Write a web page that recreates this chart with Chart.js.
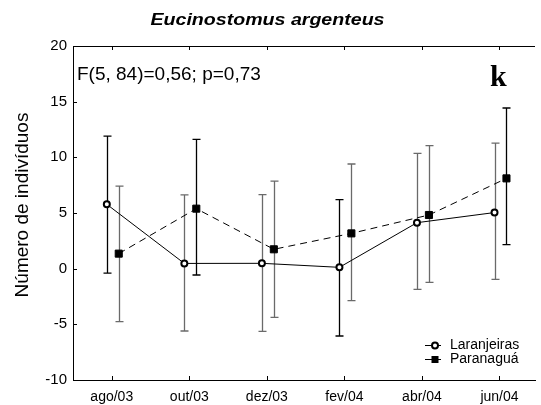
<!DOCTYPE html>
<html><head><meta charset="utf-8">
<script src="https://cdn.jsdelivr.net/npm/chart.js@4.4.0/dist/chart.umd.min.js"></script>
<style>html,body{margin:0;padding:0;background:#fff;overflow:hidden}#wrap{width:541px;height:405px;position:relative}</style>
</head><body><div id="wrap"><canvas id="c" width="541" height="405"></canvas></div>
<script>
const categories = ['ago/03','out/03','dez/03','fev/04','abr/04','jun/04'];
const laranjeirasMean = [5.78, 0.47, 0.48, 0.12, 4.13, 5.04];
const laranjeirasHigh = [11.9, 6.62, 6.65, 6.2, 10.36, 11.27];
const laranjeirasLow  = [-0.4, -5.6, -5.63, -6.05, -1.86, -0.96];
const paranaguaMean = [1.35, 5.39, 1.74, 3.17, 4.82, 8.11];
const paranaguaHigh = [7.42, 11.62, 7.87, 9.4, 11.05, 14.43];
const paranaguaLow  = [-4.76, -0.57, -4.37, -2.87, -1.23, 2.16];
const yTicks = [-10, -5, 0, 5, 10, 15, 20];
const seriesNames = ['Laranjeiras', 'Paranaguá'];
const titleText = 'Eucinostomus argenteus';
const yTitle = 'Número de indivíduos';
const statText = 'F(5, 84)=0,56; p=0,73';
const panelLetter = 'k';

// styles (not data)
const OFFSETS = [-0.064, 0.09];
const GRAY = '#6a6a6a';
const ERR_COLORS = [
  ['#000', GRAY, GRAY, '#000', GRAY, GRAY],
  [GRAY, '#000', GRAY, GRAY, GRAY, '#000']
];
const SANS = '"Liberation Sans", Arial, sans-serif';

const mk = (means, off) => means.map((v, i) => ({x: i + off, y: v}));
const errData = [[laranjeirasLow, laranjeirasHigh], [paranaguaLow, paranaguaHigh]];

const deco = {
  id: 'deco',
  beforeDatasetsDraw(chart) {
    const ctx = chart.ctx, xs = chart.scales.x, ys = chart.scales.y;
    ctx.save();
    ctx.lineWidth = 1.3;
    errData.forEach((pair, d) => {
      pair[0].forEach((lo, j) => {
        const hi = pair[1][j];
        const x = Math.round(xs.getPixelForValue(j + OFFSETS[d])) + 0.5;
        const y1 = ys.getPixelForValue(lo), y2 = ys.getPixelForValue(hi);
        ctx.strokeStyle = ERR_COLORS[d][j];
        ctx.beginPath();
        ctx.moveTo(x, y1); ctx.lineTo(x, y2);
        ctx.moveTo(x - 4, y1); ctx.lineTo(x + 4, y1);
        ctx.moveTo(x - 4, y2); ctx.lineTo(x + 4, y2);
        ctx.stroke();
      });
    });
    ctx.restore();
  },
  afterDraw(chart) {
    const ctx = chart.ctx, xs = chart.scales.x, ys = chart.scales.y, a = chart.chartArea;
    ctx.save();
    ctx.strokeStyle = '#000';
    ctx.lineWidth = 1;
    ctx.beginPath();
    ctx.moveTo(a.left, Math.round(a.top) + 0.5); ctx.lineTo(a.right, Math.round(a.top) + 0.5);
    ctx.stroke();
    ctx.beginPath();
    yTicks.forEach(v => {
      const y = Math.round(ys.getPixelForValue(v)) + 0.5;
      ctx.moveTo(a.left, y); ctx.lineTo(a.left + 4, y);
    });
    categories.forEach((c, i) => {
      const x = Math.round(xs.getPixelForValue(i)) + 0.5;
      ctx.moveTo(x, a.bottom); ctx.lineTo(x, a.bottom - 4);
      ctx.moveTo(x, a.top); ctx.lineTo(x, a.top + 4);
    });
    ctx.stroke();

    ctx.fillStyle = '#000';
    ctx.font = 'italic bold 16px ' + SANS;
    const tw = ctx.measureText(titleText).width;
    ctx.save();
    ctx.translate(267.5, 25);
    ctx.scale(234 / tw, 1);
    ctx.textAlign = 'center';
    ctx.textBaseline = 'alphabetic';
    ctx.fillText(titleText, 0, 0);
    ctx.restore();

    ctx.save();
    ctx.font = '19px ' + SANS;
    ctx.translate(28, 205);
    ctx.rotate(-Math.PI / 2);
    ctx.textAlign = 'center';
    ctx.textBaseline = 'alphabetic';
    ctx.fillText(yTitle, 0, 0);
    ctx.restore();

    ctx.font = '19px ' + SANS;
    ctx.textAlign = 'left';
    ctx.textBaseline = 'middle';
    ctx.fillText(statText, a.left + 4, 75);

    ctx.font = 'bold 30px "Liberation Serif", "Times New Roman", serif';
    ctx.textBaseline = 'alphabetic';
    ctx.fillText(panelLetter, 490, 86);

    const lx0 = 425, lx1 = 441, mx = 435, tx = 450;
    const rows = [345, 359];
    ctx.font = '14px ' + SANS;
    ctx.textBaseline = 'middle';
    rows.forEach((ry, d) => {
      ctx.strokeStyle = '#000';
      ctx.lineWidth = 1;
      ctx.setLineDash([]);
      ctx.beginPath();
      ctx.moveTo(lx0, ry + 0.5); ctx.lineTo(lx1, ry + 0.5);
      ctx.stroke();
      if (d === 0) {
        ctx.fillStyle = '#fff';
        ctx.lineWidth = 2;
        ctx.beginPath(); ctx.arc(mx, ry + 0.5, 3, 0, Math.PI * 2); ctx.fill(); ctx.stroke();
      } else {
        ctx.fillStyle = '#000';
        ctx.fillRect(mx - 3.5, ry - 3, 7, 7);
      }
      ctx.fillStyle = '#000';
      ctx.fillText(seriesNames[d], tx, ry);
    });
    ctx.restore();
  }
};

new Chart(document.getElementById('c'), {
  type: 'scatter',
  data: {
    datasets: [
      {
        label: seriesNames[0],
        data: mk(laranjeirasMean, OFFSETS[0]),
        showLine: true,
        borderColor: '#000',
        borderWidth: 1,
        pointStyle: 'circle',
        pointRadius: 3,
        pointBackgroundColor: '#fff',
        pointBorderColor: '#000',
        pointBorderWidth: 2
      },
      {
        label: seriesNames[1],
        data: mk(paranaguaMean, OFFSETS[1]),
        showLine: true,
        borderColor: '#000',
        borderWidth: 1,
        borderDash: [7, 5],
        pointStyle: 'rect',
        pointRadius: 5,
        pointBackgroundColor: '#000',
        pointBorderColor: '#000',
        pointBorderWidth: 1
      }
    ]
  },
  options: {
    responsive: false,
    animation: false,
    events: [],
    layout: { padding: { top: 46, right: 0, left: 0, bottom: 0 } },
    plugins: { legend: { display: false }, tooltip: { enabled: false }, title: { display: false } },
    scales: {
      x: {
        type: 'linear',
        min: -0.5,
        max: 5.458,
        afterBuildTicks: s => { s.ticks = categories.map((c, i) => ({ value: i })); },
        afterFit: s => { s.height = 25; },
        ticks: {
          callback: v => categories[v],
          color: '#000',
          font: { family: SANS, size: 14 },
          padding: 9,
          maxRotation: 0,
          autoSkip: false
        },
        grid: { display: true, drawOnChartArea: false, drawTicks: false },
        border: { display: true, color: '#000', width: 1 }
      },
      y: {
        min: -10,
        max: 20,
        afterBuildTicks: s => { s.ticks = yTicks.map(v => ({ value: v })); },
        afterFit: s => { s.width = 73; },
        ticks: {
          callback: v => String(v),
          color: '#000',
          font: { family: SANS, size: 15 },
          padding: 6
        },
        grid: { display: true, drawOnChartArea: false, drawTicks: false },
        border: { display: true, color: '#000', width: 1 }
      }
    }
  },
  plugins: [deco]
});
</script>
</body></html>
